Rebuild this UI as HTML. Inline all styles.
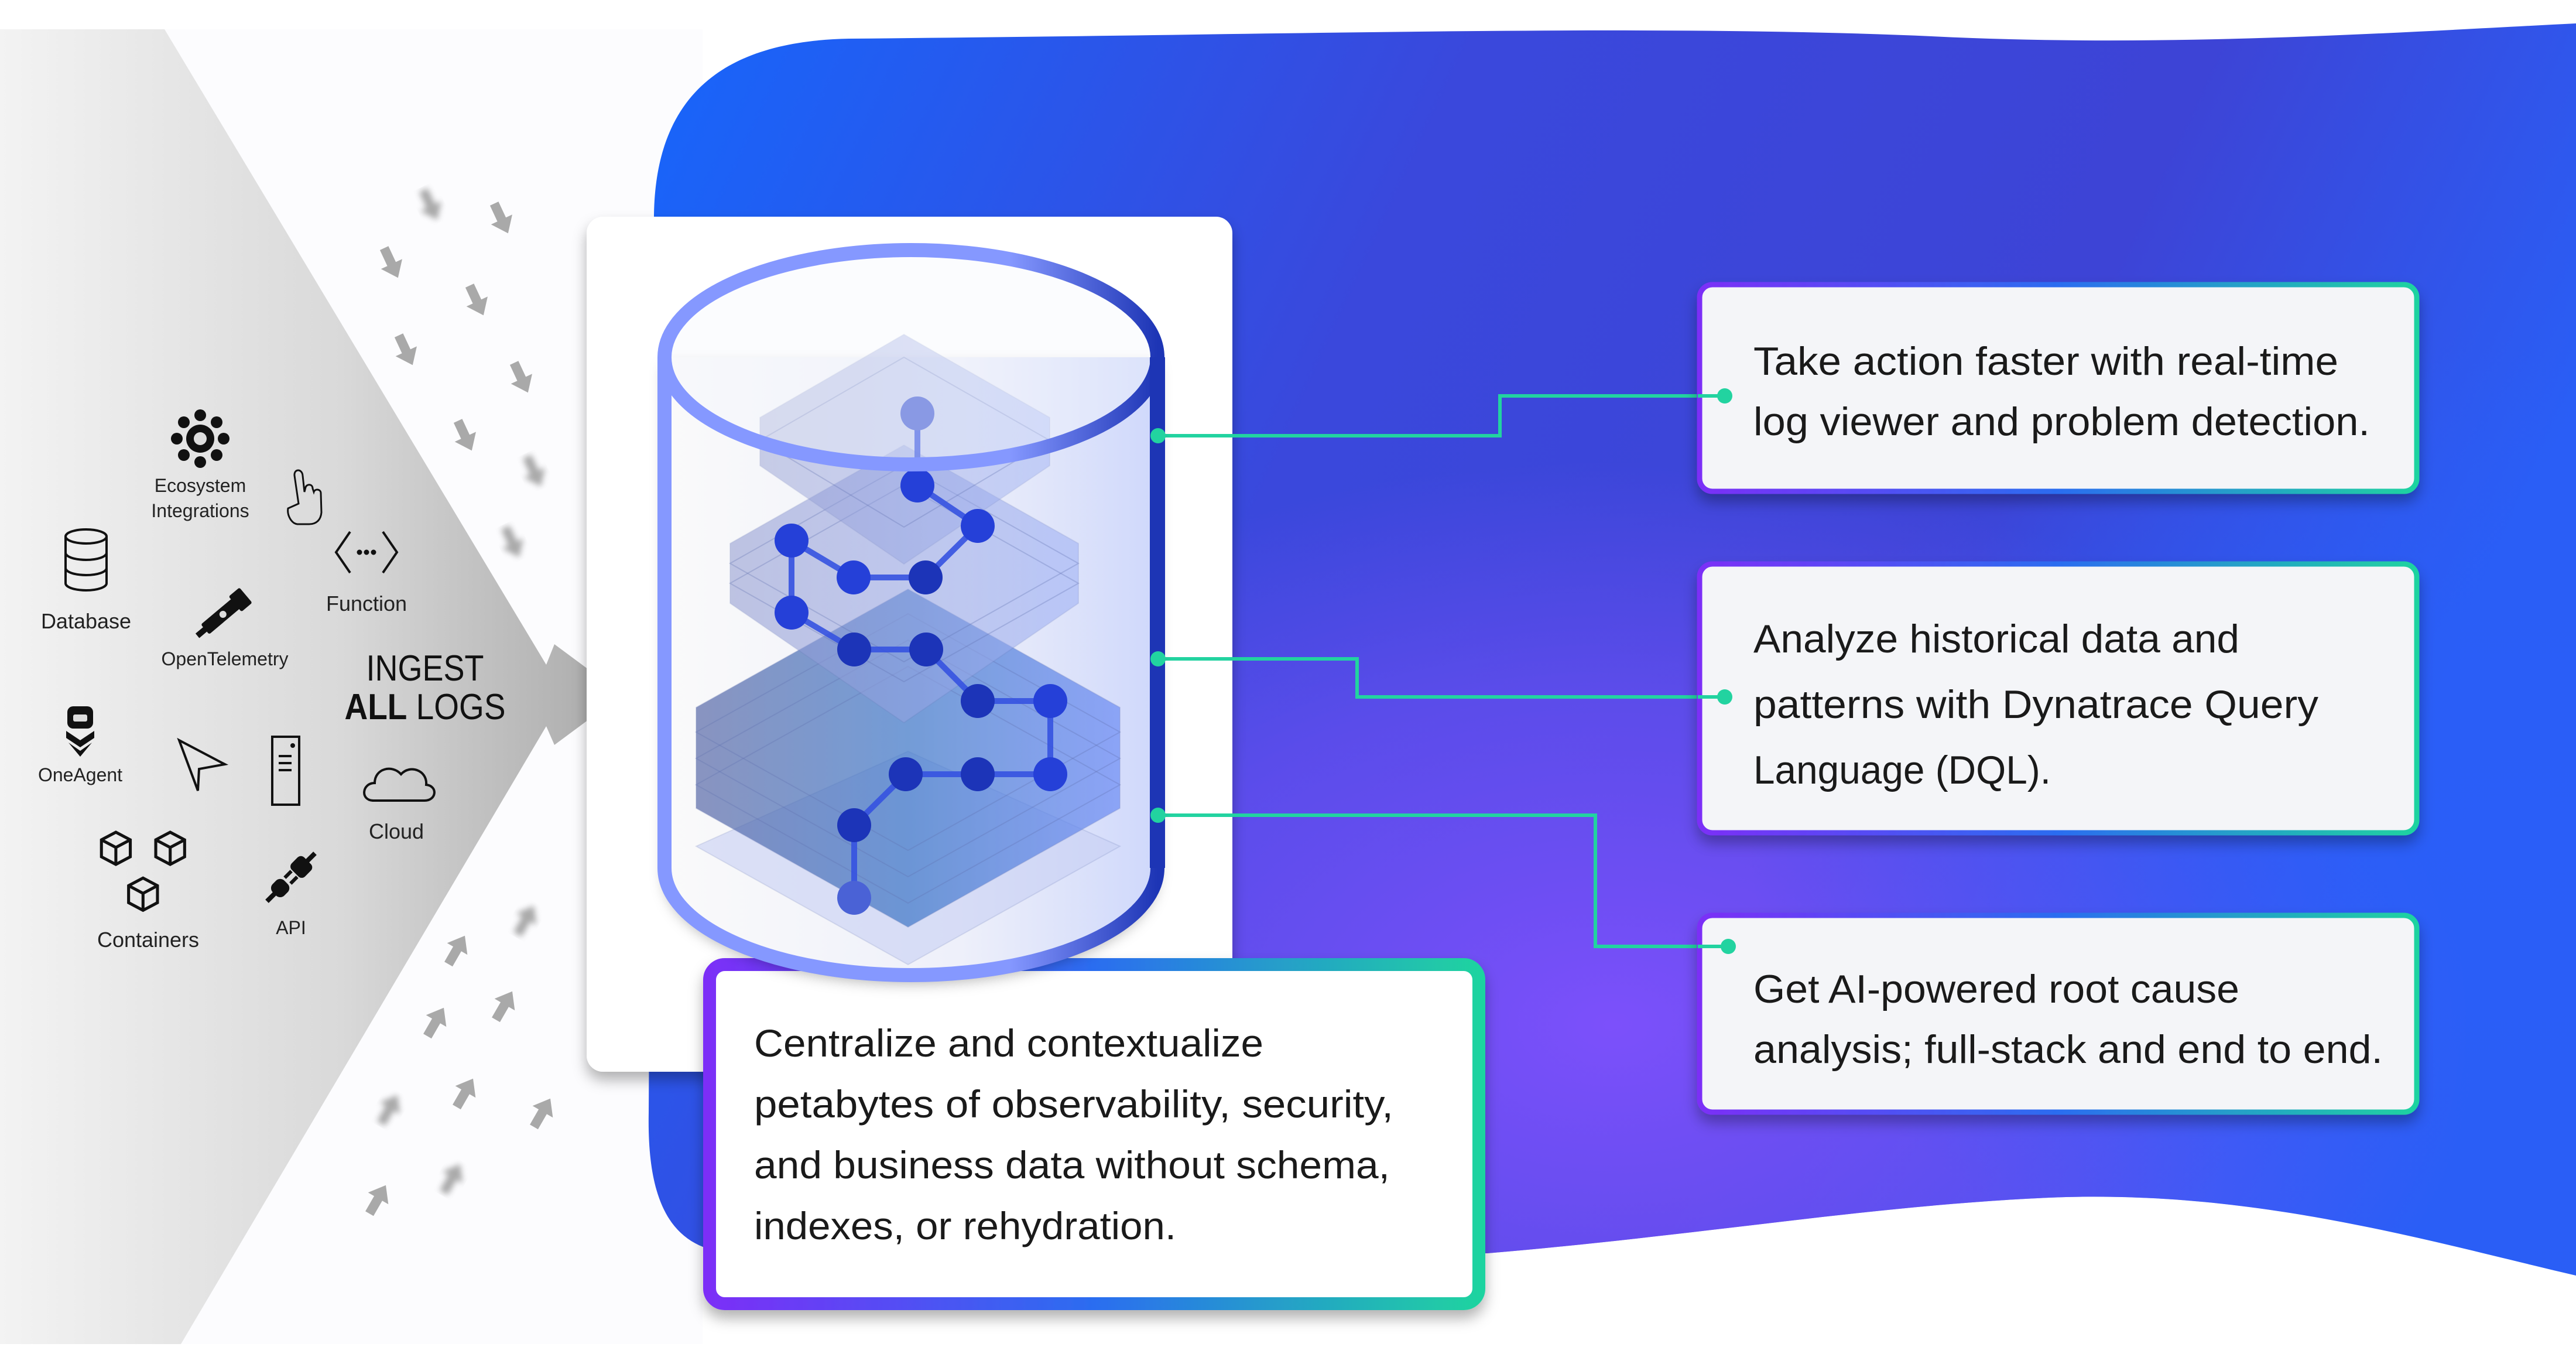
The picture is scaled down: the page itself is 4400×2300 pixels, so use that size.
<!DOCTYPE html>
<html><head><meta charset="utf-8"><style>
html,body{margin:0;padding:0;background:#fff;}
svg{display:block;font-family:"Liberation Sans",sans-serif;}
</style></head><body>
<svg width="4400" height="2300" viewBox="0 0 4400 2300" xmlns="http://www.w3.org/2000/svg">
<defs>
<linearGradient id="grayG" x1="0" y1="0" x2="1" y2="0">
<stop offset="0" stop-color="#f3f3f3"/><stop offset="0.55" stop-color="#d9d9d9"/><stop offset="1" stop-color="#a9a9a9"/>
</linearGradient>
<linearGradient id="blobG" x1="0" y1="0" x2="1" y2="0.3">
<stop offset="0" stop-color="#1766fb"/><stop offset="0.4" stop-color="#3a48dc"/><stop offset="0.75" stop-color="#3d44d6"/><stop offset="1" stop-color="#2a5ef5"/>
</linearGradient>
<radialGradient id="blobR" cx="0.97" cy="0.65" r="0.4">
<stop offset="0" stop-color="#2a5ef8" stop-opacity="0.9"/><stop offset="1" stop-color="#2a5ef8" stop-opacity="0"/>
</radialGradient>
<radialGradient id="blobR2" cx="0.5" cy="0.8" r="0.45">
<stop offset="0" stop-color="#7c50fb" stop-opacity="1"/><stop offset="0.6" stop-color="#7050f5" stop-opacity="0.6"/><stop offset="1" stop-color="#7050f5" stop-opacity="0"/>
</radialGradient>
<linearGradient id="bord" x1="0" y1="0" x2="1" y2="0">
<stop offset="0" stop-color="#7b2ff7"/><stop offset="0.5" stop-color="#2b6df0"/><stop offset="1" stop-color="#1fd3a0"/>
</linearGradient>
<linearGradient id="cylBody" x1="0" y1="0" x2="1" y2="0">
<stop offset="0" stop-color="#fafafa"/><stop offset="0.6" stop-color="#eef0fa"/><stop offset="1" stop-color="#cfd8fb"/>
</linearGradient>
<linearGradient id="plateG" x1="0" y1="0" x2="1" y2="0">
<stop offset="0" stop-color="#5a6aa8"/><stop offset="0.5" stop-color="#3f78c8"/><stop offset="1" stop-color="#6d8cf5"/>
</linearGradient>
<linearGradient id="plateL" x1="0" y1="0" x2="1" y2="0">
<stop offset="0" stop-color="#8e98d0"/><stop offset="1" stop-color="#9db0f5"/>
</linearGradient>
<linearGradient id="rimR" x1="0" y1="0" x2="1" y2="0">
<stop offset="0" stop-color="#8598ff"/><stop offset="0.7" stop-color="#8598ff"/><stop offset="1" stop-color="#1d35b5"/>
</linearGradient>
<filter id="sh" x="-10%" y="-10%" width="120%" height="130%"><feDropShadow dx="0" dy="14" stdDeviation="12" flood-color="#000" flood-opacity="0.3"/></filter>
<filter id="bl"><feGaussianBlur stdDeviation="5"/></filter>
<g id="arr"><polygon points="-8,-28 8,-28 8,2 20,2 0,28 -20,2 -8,2" fill="#9a9a9a"/></g>
</defs>

<rect width="4400" height="2300" fill="#fff"/>
<rect x="0" y="50" width="1200" height="2245" fill="#fcfcfe"/>
<polygon points="0,50 281,50 933,1135 947,1100 1063,1186 947,1272 933,1240 309,2295 0,2295" fill="url(#grayG)"/>

<!-- blob -->
<path d="M1117,380 C1115,150 1250,70 1450,66 C2200,60 2800,40 3300,62 C3700,82 4100,55 4400,40 L4400,2178 C4150,2120 3850,2030 3500,2045 C3200,2058 2900,2110 2540,2140 L1250,2140 C1150,2132 1105,2060 1108,1900 Z" fill="url(#blobG)"/>
<path d="M1117,380 C1115,150 1250,70 1450,66 C2200,60 2800,40 3300,62 C3700,82 4100,55 4400,40 L4400,2178 C4150,2120 3850,2030 3500,2045 C3200,2058 2900,2110 2540,2140 L1250,2140 C1150,2132 1105,2060 1108,1900 Z" fill="url(#blobR2)"/>
<path d="M1117,380 C1115,150 1250,70 1450,66 C2200,60 2800,40 3300,62 C3700,82 4100,55 4400,40 L4400,2178 C4150,2120 3850,2030 3500,2045 C3200,2058 2900,2110 2540,2140 L1250,2140 C1150,2132 1105,2060 1108,1900 Z" fill="url(#blobR)"/>

<!-- scattered arrows -->
<g opacity="0.85">
<use href="#arr" transform="translate(735,350) rotate(-25)" filter="url(#bl)"/>
<use href="#arr" transform="translate(856,373) rotate(-25)"/>
<use href="#arr" transform="translate(668,449) rotate(-25)"/>
<use href="#arr" transform="translate(814,513) rotate(-25)"/>
<use href="#arr" transform="translate(693,598) rotate(-25)"/>
<use href="#arr" transform="translate(890,645) rotate(-25)"/>
<use href="#arr" transform="translate(794,744) rotate(-25)"/>
<use href="#arr" transform="translate(912,805) rotate(-25)" filter="url(#bl)"/>
<use href="#arr" transform="translate(875,926) rotate(-25)" filter="url(#bl)"/>
<use href="#arr" transform="translate(780,1622) rotate(210)"/>
<use href="#arr" transform="translate(898,1571) rotate(210)" filter="url(#bl)"/>
<use href="#arr" transform="translate(744,1745) rotate(210)"/>
<use href="#arr" transform="translate(861,1717) rotate(210)"/>
<use href="#arr" transform="translate(665,1894) rotate(210)" filter="url(#bl)"/>
<use href="#arr" transform="translate(794,1866) rotate(210)"/>
<use href="#arr" transform="translate(926,1900) rotate(210)"/>
<use href="#arr" transform="translate(645,2048) rotate(210)"/>
<use href="#arr" transform="translate(772,2012) rotate(210)" filter="url(#bl)"/>
</g>

<!-- left icons -->
<g fill="#111" stroke="#111">
<g transform="translate(342,749)" stroke="none">
<circle r="24"/><circle r="11" fill="#ddd"/>
<circle cx="0" cy="-40" r="10"/><circle cx="0" cy="40" r="10"/><circle cx="-40" cy="0" r="10"/><circle cx="40" cy="0" r="10"/>
<circle cx="-28" cy="-28" r="10"/><circle cx="28" cy="-28" r="10"/><circle cx="-28" cy="28" r="10"/><circle cx="28" cy="28" r="10"/>
</g>
<path d="M510,860 L503,812 C502,800 516,800 517,812 L520,840 L522,832 C524,826 534,826 534,834 L536,840 C538,834 548,835 548,842 L549,875 C548,888 540,895 528,895 L508,895 C498,894 490,880 492,868 Z" fill="none" stroke-width="3"/>
<g fill="none" stroke-width="4" transform="translate(147,956)">
<ellipse cx="0" cy="-40" rx="35" ry="12"/>
<path d="M-35,-40 V40 A35,12 0 0 0 35,40 V-40"/>
<path d="M-35,-12 A35,12 0 0 0 35,-12 M-35,14 A35,12 0 0 0 35,14"/>
</g>
<g fill="none" stroke-width="4" transform="translate(626,943)">
<path d="M-28,-35 L-52,0 L-28,35 M28,-35 L52,0 L28,35"/>
<circle cx="-12" cy="0" r="2.5" fill="#111"/><circle cx="0" cy="0" r="2.5" fill="#111"/><circle cx="12" cy="0" r="2.5" fill="#111"/>
</g>
<g transform="translate(384,1045) rotate(-40)" stroke="none">
<rect x="-45" y="-10" width="70" height="22" rx="3"/><rect x="22" y="-16" width="24" height="34" rx="3"/>
<circle cx="-5" cy="1" r="6" fill="#ddd"/><rect x="-62" y="-4" width="18" height="10"/>
</g>
<g transform="translate(137,1246)" stroke="none">
<rect x="-22" y="-40" width="44" height="38" rx="10"/>
<rect x="-12" y="-26" width="24" height="12" rx="3" fill="#ddd"/>
<polygon points="-24,2 0,18 24,2 24,14 0,30 -24,14"/>
<polygon points="-20,22 0,36 20,22 0,46"/>
</g>
<polygon points="306,1264 384,1305 340,1313 338,1350" fill="none" stroke-width="4"/>
<g fill="none" stroke-width="4" transform="translate(488,1316)">
<rect x="-23" y="-58" width="46" height="116"/>
<path d="M-12,-25 H10 M-12,-13 H10 M-12,-1 H10"/><circle cx="12" cy="-43" r="2" fill="#111"/>
</g>
<path d="M638,1367 C615,1367 618,1337 640,1337 C640,1312 670,1305 685,1322 C700,1305 730,1315 728,1340 C748,1342 746,1367 725,1367 Z" fill="none" stroke-width="4"/>
<g fill="none" stroke-width="3.5" transform="translate(253,1492) scale(1.45)">
<path d="M-55,-40 l17,-9 17,9 v20 l-17,9 -17,-9 Z M-55,-40 l17,9 17,-9 M-38,-31 v20"/>
<path d="M9,-40 l17,-9 17,9 v20 l-17,9 -17,-9 Z M9,-40 l17,9 17,-9 M26,-31 v20"/>
<path d="M-23,14 l17,-9 17,9 v20 l-17,9 -17,-9 Z M-23,14 l17,9 17,-9 M-6,23 v20"/>
</g>
<g transform="translate(497,1498) rotate(-45)" stroke="none">
<rect x="-40" y="-14" width="28" height="28" rx="10"/><rect x="-58" y="-4" width="20" height="8"/>
<rect x="10" y="-16" width="30" height="32" rx="8"/><rect x="38" y="-4" width="20" height="8"/>
<rect x="-8" y="-10" width="16" height="6"/><rect x="-8" y="4" width="16" height="6"/>
</g>
</g>
<g fill="#222" text-anchor="middle" font-size="32">
<text x="342" y="840">Ecosystem</text>
<text x="342" y="883">Integrations</text>
<text x="147" y="1073" font-size="36">Database</text>
<text x="626" y="1043" font-size="36">Function</text>
<text x="384" y="1136">OpenTelemetry</text>
<text x="137" y="1334">OneAgent</text>
<text x="677" y="1432" font-size="36">Cloud</text>
<text x="253" y="1617" font-size="36">Containers</text>
<text x="497" y="1595">API</text>
<text x="726" y="1162" font-size="62" fill="#111" textLength="201" lengthAdjust="spacingAndGlyphs">INGEST</text>
<text x="726" y="1228" font-size="62" fill="#111" textLength="275" lengthAdjust="spacingAndGlyphs"><tspan font-weight="bold">ALL</tspan> LOGS</text>
</g>

<!-- white card -->
<rect x="1002" y="370" width="1103" height="1460" rx="28" fill="#fff" filter="url(#sh)"/>

<!-- bottom text box -->
<rect x="1212" y="1647" width="1314" height="579" rx="26" fill="#fff" stroke="url(#bord)" stroke-width="22" filter="url(#sh)"/>
<g font-size="66" fill="#1a1a1a">
<text x="1288" y="1804" textLength="870" lengthAdjust="spacingAndGlyphs">Centralize and contextualize</text>
<text x="1288" y="1908" textLength="1092" lengthAdjust="spacingAndGlyphs">petabytes of observability, security,</text>
<text x="1288" y="2012" textLength="1086" lengthAdjust="spacingAndGlyphs">and business data without schema,</text>
<text x="1288" y="2116" textLength="721" lengthAdjust="spacingAndGlyphs">indexes, or rehydration.</text>
</g>

<!-- connectors -->
<g fill="none" stroke="#22d3a0" stroke-width="6">
<path d="M1978,744 H2562 V676 H2946"/>
<path d="M1978,1125 H2318 V1190 H2946"/>
<path d="M1978,1392 H2725 V1616 H2952"/>
</g>

<!-- right boxes -->
<g filter="url(#sh)">
<rect x="2903" y="486" width="1225" height="353" rx="22" fill="#f4f5f8" stroke="url(#bord)" stroke-width="9"/>
<rect x="2903" y="963" width="1225" height="459" rx="22" fill="#f4f5f8" stroke="url(#bord)" stroke-width="9"/>
<rect x="2903" y="1563" width="1225" height="336" rx="22" fill="#f4f5f8" stroke="url(#bord)" stroke-width="9"/>
</g>
<g fill="#22d3a0"><circle cx="2946" cy="676" r="13"/><circle cx="2946" cy="1190" r="13"/><circle cx="2952" cy="1616" r="13"/></g>
<g stroke="#22d3a0" stroke-width="6"><path d="M2900,676 H2946 M2900,1190 H2946 M2900,1616 H2952"/></g>
<g font-size="68" fill="#1a1a1a">
<text x="2995" y="640" textLength="999" lengthAdjust="spacingAndGlyphs">Take action faster with real-time</text>
<text x="2995" y="743" textLength="1053" lengthAdjust="spacingAndGlyphs">log viewer and problem detection.</text>
<text x="2995" y="1114" textLength="830" lengthAdjust="spacingAndGlyphs">Analyze historical data and</text>
<text x="2995" y="1226" textLength="965" lengthAdjust="spacingAndGlyphs">patterns with Dynatrace Query</text>
<text x="2995" y="1338" textLength="508" lengthAdjust="spacingAndGlyphs">Language (DQL).</text>
<text x="2995" y="1712" textLength="830" lengthAdjust="spacingAndGlyphs">Get AI-powered root cause</text>
<text x="2995" y="1815" textLength="1075" lengthAdjust="spacingAndGlyphs">analysis; full-stack and end to end.</text>
</g>

<!-- cylinder -->
<g filter="url(#sh)">
<path d="M1135,610 V1482 A421,183 0 0 0 1977,1482 V610 Z" fill="url(#cylBody)"/>
</g>
<g stroke="#6070b0" stroke-opacity="0.3" stroke-width="2">
<polygon points="1189,1445 1551,1283 1913,1445 1551,1647" fill="#c8d0f4" opacity="0.6"/>
<polygon points="1189,1208 1551,1006 1913,1208 1913,1380 1551,1583 1189,1380" fill="url(#plateG)" opacity="0.7"/>
<polygon points="1189,1250 1551,1048 1913,1250 1551,1452" fill="none"/>
<polygon points="1189,1295 1551,1093 1913,1295 1551,1497" fill="none"/>
<polygon points="1189,1340 1551,1138 1913,1340 1551,1542" fill="none"/>
<polygon points="1247,928 1544,760 1842,928 1842,1030 1544,1234 1247,1030" fill="url(#plateL)" opacity="0.55"/>
<polygon points="1247,962 1544,794 1842,962 1544,1130" fill="none"/>
<polygon points="1247,996 1544,828 1842,996 1544,1164" fill="none"/>
<polygon points="1298,713 1544,571 1793,713 1793,795 1544,963 1298,795" fill="url(#plateL)" opacity="0.45"/>
<polygon points="1298,752 1544,610 1793,752 1544,900" fill="none"/>
</g>
<g stroke="#3552e0" stroke-width="10" fill="none" opacity="0.9">
<polyline points="1567,706 1567,829 1670,898 1581,986 1458,986 1352,923 1352,1046 1459,1109 1582,1109 1670,1197 1794,1197 1794,1322 1670,1322 1547,1322 1459,1409 1459,1533"/>
</g>
<g fill="#2540d8">
<circle cx="1567" cy="706" r="29" fill="#5068d8"/><circle cx="1567" cy="829" r="29"/><circle cx="1670" cy="898" r="29"/>
<circle cx="1581" cy="986" r="29" fill="#1c34b8"/><circle cx="1458" cy="986" r="29"/><circle cx="1352" cy="923" r="29"/>
<circle cx="1352" cy="1046" r="29"/><circle cx="1459" cy="1109" r="29" fill="#1c34b8"/><circle cx="1582" cy="1109" r="29" fill="#1c34b8"/>
<circle cx="1670" cy="1197" r="29" fill="#1c34b8"/><circle cx="1794" cy="1197" r="29"/><circle cx="1794" cy="1322" r="29"/>
<circle cx="1670" cy="1322" r="29" fill="#1c34b8"/><circle cx="1547" cy="1322" r="29" fill="#1c34b8"/><circle cx="1459" cy="1409" r="29" fill="#1c34b8"/>
<circle cx="1459" cy="1533" r="29" fill="#4a62d6"/>
</g>
<ellipse cx="1556" cy="610" rx="421" ry="183" fill="#f4f5fc" fill-opacity="0.35" stroke="url(#rimR)" stroke-width="24"/>
<path d="M1135,610 V1482 A421,183 0 0 0 1977,1482" fill="none" stroke="url(#rimR)" stroke-width="24"/>
<path d="M1977,610 V1482" fill="none" stroke="#1d35b5" stroke-width="26"/>
<g fill="#22d3a0"><circle cx="1978" cy="744" r="13"/><circle cx="1978" cy="1125" r="13"/><circle cx="1978" cy="1392" r="13"/></g>
</svg>
</body></html>
